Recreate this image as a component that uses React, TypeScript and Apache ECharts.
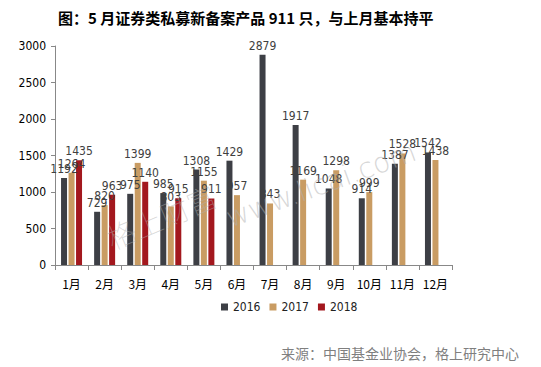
import React, { useEffect, useRef } from "react";
import * as echarts from "echarts";

const months = ["1月", "2月", "3月", "4月", "5月", "6月", "7月", "8月", "9月", "10月", "11月", "12月"];
const y2016 = [1192, 729, 975, 985, 1308, 1429, 2879, 1917, 1048, 914, 1387, 1542];
const y2017 = [1264, 820, 1399, 803, 1155, 957, 843, 1169, 1298, 999, 1528, 1438];
const y2018: (number | null)[] = [1435, 963, 1140, 915, 911, null, null, null, null, null, null, null];
const yTicks = [0, 500, 1000, 1500, 2000, 2500, 3000];

const NUM_FONT = "'DejaVu Sans Condensed', 'DejaVu Sans', sans-serif";

export default function App() {
  const ref = useRef<HTMLDivElement>(null);
  useEffect(() => {
    if (!ref.current) return;
    const chart = echarts.init(ref.current, null, { renderer: "svg" });
    const label = {
      show: true,
      position: "top" as const,
      color: "#404040",
      fontSize: 12,
      fontFamily: NUM_FONT,
      distance: 3,
    };
    const mk = (name: string, data: (number | null)[], color: string) => ({
      name,
      type: "bar" as const,
      data,
      barWidth: 6,
      barGap: "25%",
      itemStyle: { color },
      label,
    });
    const deg = Math.PI / 180;
    chart.setOption({
      animation: false,
      backgroundColor: "#ffffff",
      title: {
        text: "图：5 月证券类私募新备案产品 911 只，与上月基本持平",
        left: 53,
        top: 5,
        textStyle: { fontSize: 15, fontWeight: "bold", color: "#000", fontFamily: "Noto Sans CJK SC" },
      },
      grid: { left: 55, right: 89, top: 46, bottom: 102, containLabel: false },
      legend: {
        top: 296,
        left: 216,
        itemWidth: 7,
        itemHeight: 7,
        itemGap: 9,
        icon: "rect",
        textStyle: { fontSize: 12, color: "#222", fontFamily: NUM_FONT },
        data: ["2016", "2017", "2018"],
      },
      graphic: [
        {
          type: "text",
          right: 22,
          top: 346,
          style: {
            text: "来源：中国基金业协会，格上研究中心",
            fontSize: 14,
            fill: "#7f7f7f",
            fontFamily: "Noto Sans CJK SC",
          },
        },
        {
          type: "text",
          x: 113,
          y: 252,
          rotation: 23 * deg,
          originX: 0,
          originY: 0,
          style: {
            text: "格上财富",
            fontSize: 29,
            verticalAlign: "bottom",
            fill: "rgba(175,175,175,0.5)",
            fontFamily: "Noto Sans CJK SC",
            fontWeight: "lighter",
          },
          z: 10,
        },
        {
          type: "text",
          x: 232,
          y: 232,
          rotation: 20 * deg,
          originX: 0,
          originY: 0,
          style: {
            text: "www.licai.com",
            fontSize: 28,
            verticalAlign: "bottom",
            fill: "rgba(175,175,175,0.5)",
            fontFamily: "DejaVu Sans",
            fontWeight: "lighter",
          },
          z: 10,
        },
      ],
      xAxis: {
        type: "category",
        data: months,
        axisLine: { lineStyle: { color: "#888" } },
        axisTick: { show: true, alignWithLabel: false, length: 5, lineStyle: { color: "#888" } },
        axisLabel: { interval: 0, color: "#000", fontSize: 12, margin: 12, fontFamily: "Noto Sans CJK SC" },
      },
      yAxis: {
        type: "value",
        min: yTicks[0],
        max: yTicks[yTicks.length - 1],
        interval: 500,
        axisLine: { show: true, lineStyle: { color: "#888" } },
        axisTick: { show: true, length: 4, lineStyle: { color: "#888" } },
        splitLine: { show: false },
        axisLabel: {
          color: "#000",
          fontSize: 12,
          margin: 9,
          fontFamily: NUM_FONT,
          formatter: (v: number) => String(v),
        },
      },
      series: [mk("2016", y2016, "#3d3f45"), mk("2017", y2017, "#c99c63"), mk("2018", y2018, "#a3181e")],
    });
    return () => chart.dispose();
  }, []);
  return <div ref={ref} style={{ width: 541, height: 367, position: "fixed", left: 0, top: 0 }} />;
}
